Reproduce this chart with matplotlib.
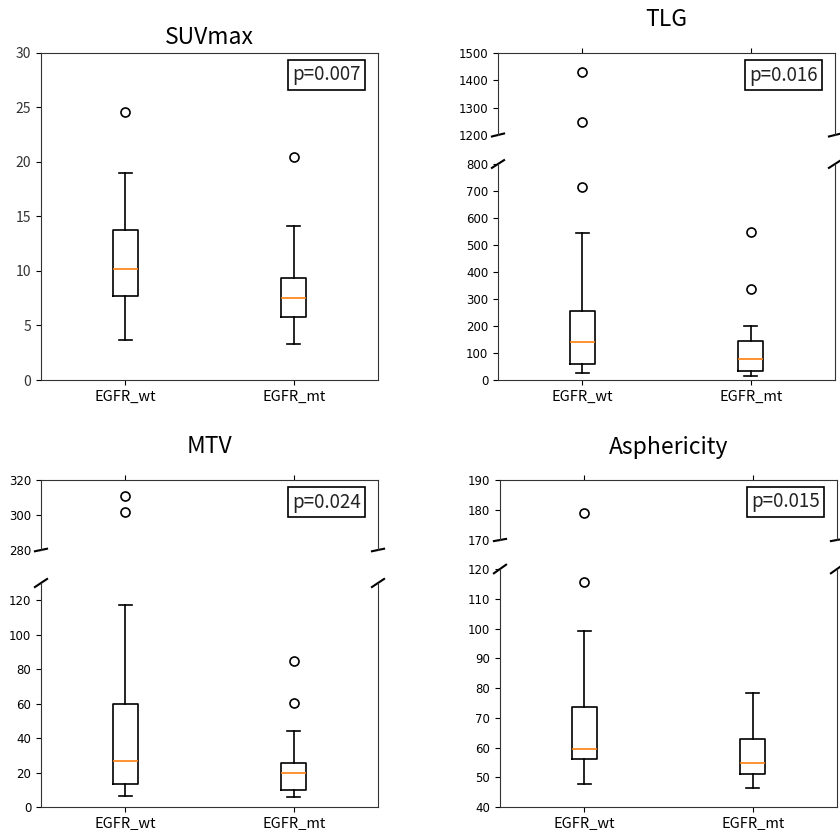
import matplotlib
matplotlib.use("Agg")
import matplotlib.pyplot as plt

plt.rcParams['font.family'] = ['Noto Sans CJK JP', 'DejaVu Sans']

groups = ['EGFR_wt', 'EGFR_mt']

# box statistics: (whislo, q1, med, q3, whishi, fliers)
suv_wt = (3.7, 7.7, 10.2, 13.8, 19.0, [24.6])
suv_mt = (3.3, 5.8, 7.5, 9.4, 14.1, [20.5])

tlg_wt = (27, 59, 141, 257, 546, [716, 1247, 1429])
tlg_mt = (15, 33, 77, 145, 201, [337, 548])

mtv_wt = (6.3, 13.4, 26.6, 59.8, 117.1, [301.9, 310.9])
mtv_mt = (5.7, 9.6, 19.9, 25.8, 44.0, [60.6, 85.0])

asph_wt = (47.7, 56.1, 59.6, 73.7, 99.3, [115.6, 179.1])
asph_mt = (46.3, 51.2, 54.8, 62.9, 78.3, [])

p_values = ['p=0.007', 'p=0.016', 'p=0.024', 'p=0.015']


def stats(vals, label):
    lo, q1, med, q3, hi, fl = vals
    return dict(whislo=lo, q1=q1, med=med, q3=q3, whishi=hi, fliers=fl, label=label)


W, H = 840, 830
fig = plt.figure(figsize=(W / 100, H / 100), dpi=100)


def px(l, t, r, b):
    return [l / W, 1 - b / H, (r - l) / W, (b - t) / H]


def draw(ax, wt, mt):
    ax.bxp([stats(wt, groups[0]), stats(mt, groups[1])],
           boxprops=dict(linewidth=1.2),
           whiskerprops=dict(linewidth=1.2),
           capprops=dict(linewidth=1.2),
           medianprops=dict(color='#ff7f0e', linewidth=1.2),
           flierprops=dict(marker='o', markersize=6.5, markeredgewidth=1.2,
                           markerfacecolor='none'))
    ax.set_xlim(0.5, 2.5)
    for s in ax.spines.values():
        s.set_color('#333333')


def pbox(ax, txt):
    ax.annotate(txt, xy=(1, 1), xycoords='axes fraction', xytext=(-17, -22),
                textcoords='offset pixels', ha='right', va='center',
                fontsize=13.5, color='#222222',
                bbox=dict(boxstyle='square,pad=0.22', fc='white', ec='black', lw=1.2))


def title(l, r, y, txt):
    fig.text((l + r) / 2 / W, 1 - y / H, txt, ha='center', va='center', fontsize=16.5)


def broken(l, r, t_up, b_up, t_lo, b_lo, up_lim, lo_lim, up_ticks, lo_ticks, wt, mt, ptxt):
    ax_up = fig.add_axes(px(l, t_up, r, b_up))
    ax_lo = fig.add_axes(px(l, t_lo, r, b_lo))
    draw(ax_up, wt, mt)
    draw(ax_lo, wt, mt)
    ax_up.set_ylim(*up_lim)
    ax_lo.set_ylim(*lo_lim)
    ax_up.set_yticks(up_ticks)
    ax_lo.set_yticks(lo_ticks)
    ax_up.spines['bottom'].set_visible(False)
    ax_lo.spines['top'].set_visible(False)
    ax_up.xaxis.tick_top()
    ax_up.tick_params(labeltop=False)
    ax_lo.xaxis.tick_bottom()
    ax_lo.tick_params(axis='x', labelsize=10.5)
    for a in (ax_up, ax_lo):
        a.tick_params(axis='y', labelsize=8.5)
        for lab in a.get_yticklabels():
            lab.set_family('DejaVu Sans')
    # diagonal break marks, as in the classic broken-axis example
    d = 0.018
    kw = dict(transform=ax_up.transAxes, color='k', clip_on=False, lw=1.5)
    ax_up.plot((-d, +d), (-d, +d), **kw)
    ax_up.plot((1 - d, 1 + d), (-d, +d), **kw)
    kw.update(transform=ax_lo.transAxes)
    ax_lo.plot((-d, +d), (1 - d, 1 + d), **kw)
    ax_lo.plot((1 - d, 1 + d), (1 - d, 1 + d), **kw)
    pbox(ax_up, ptxt)
    return ax_up, ax_lo


# SUVmax
ax1 = fig.add_axes(px(41, 53, 378, 380))
draw(ax1, suv_wt, suv_mt)
ax1.set_ylim(0, 30)
ax1.set_yticks([0, 5, 10, 15, 20, 25, 30])
ax1.tick_params(axis='y', labelsize=10, labelcolor='#333333')
ax1.tick_params(axis='x', labelsize=10.5)
pbox(ax1, p_values[0])
title(41, 378, 37, 'SUVmax')

# TLG
broken(498, 835, 53, 135, 164, 380, (1200, 1500), (0, 800),
       [1200, 1300, 1400, 1500], list(range(0, 801, 100)), tlg_wt, tlg_mt, p_values[1])
title(498, 835, 19, 'TLG')

# MTV
broken(41, 378, 480, 550, 583, 807, (280, 320), (0, 130),
       [280, 300, 320], list(range(0, 121, 20)), mtv_wt, mtv_mt, p_values[2])
title(41, 378, 446, 'MTV')

# Asphericity
broken(500, 837, 480, 540, 569, 807, (170, 190), (40, 120),
       [170, 180, 190], list(range(40, 121, 10)), asph_wt, asph_mt, p_values[3])
title(500, 837, 447, 'Asphericity')

fig.savefig('out.png', dpi=100)
